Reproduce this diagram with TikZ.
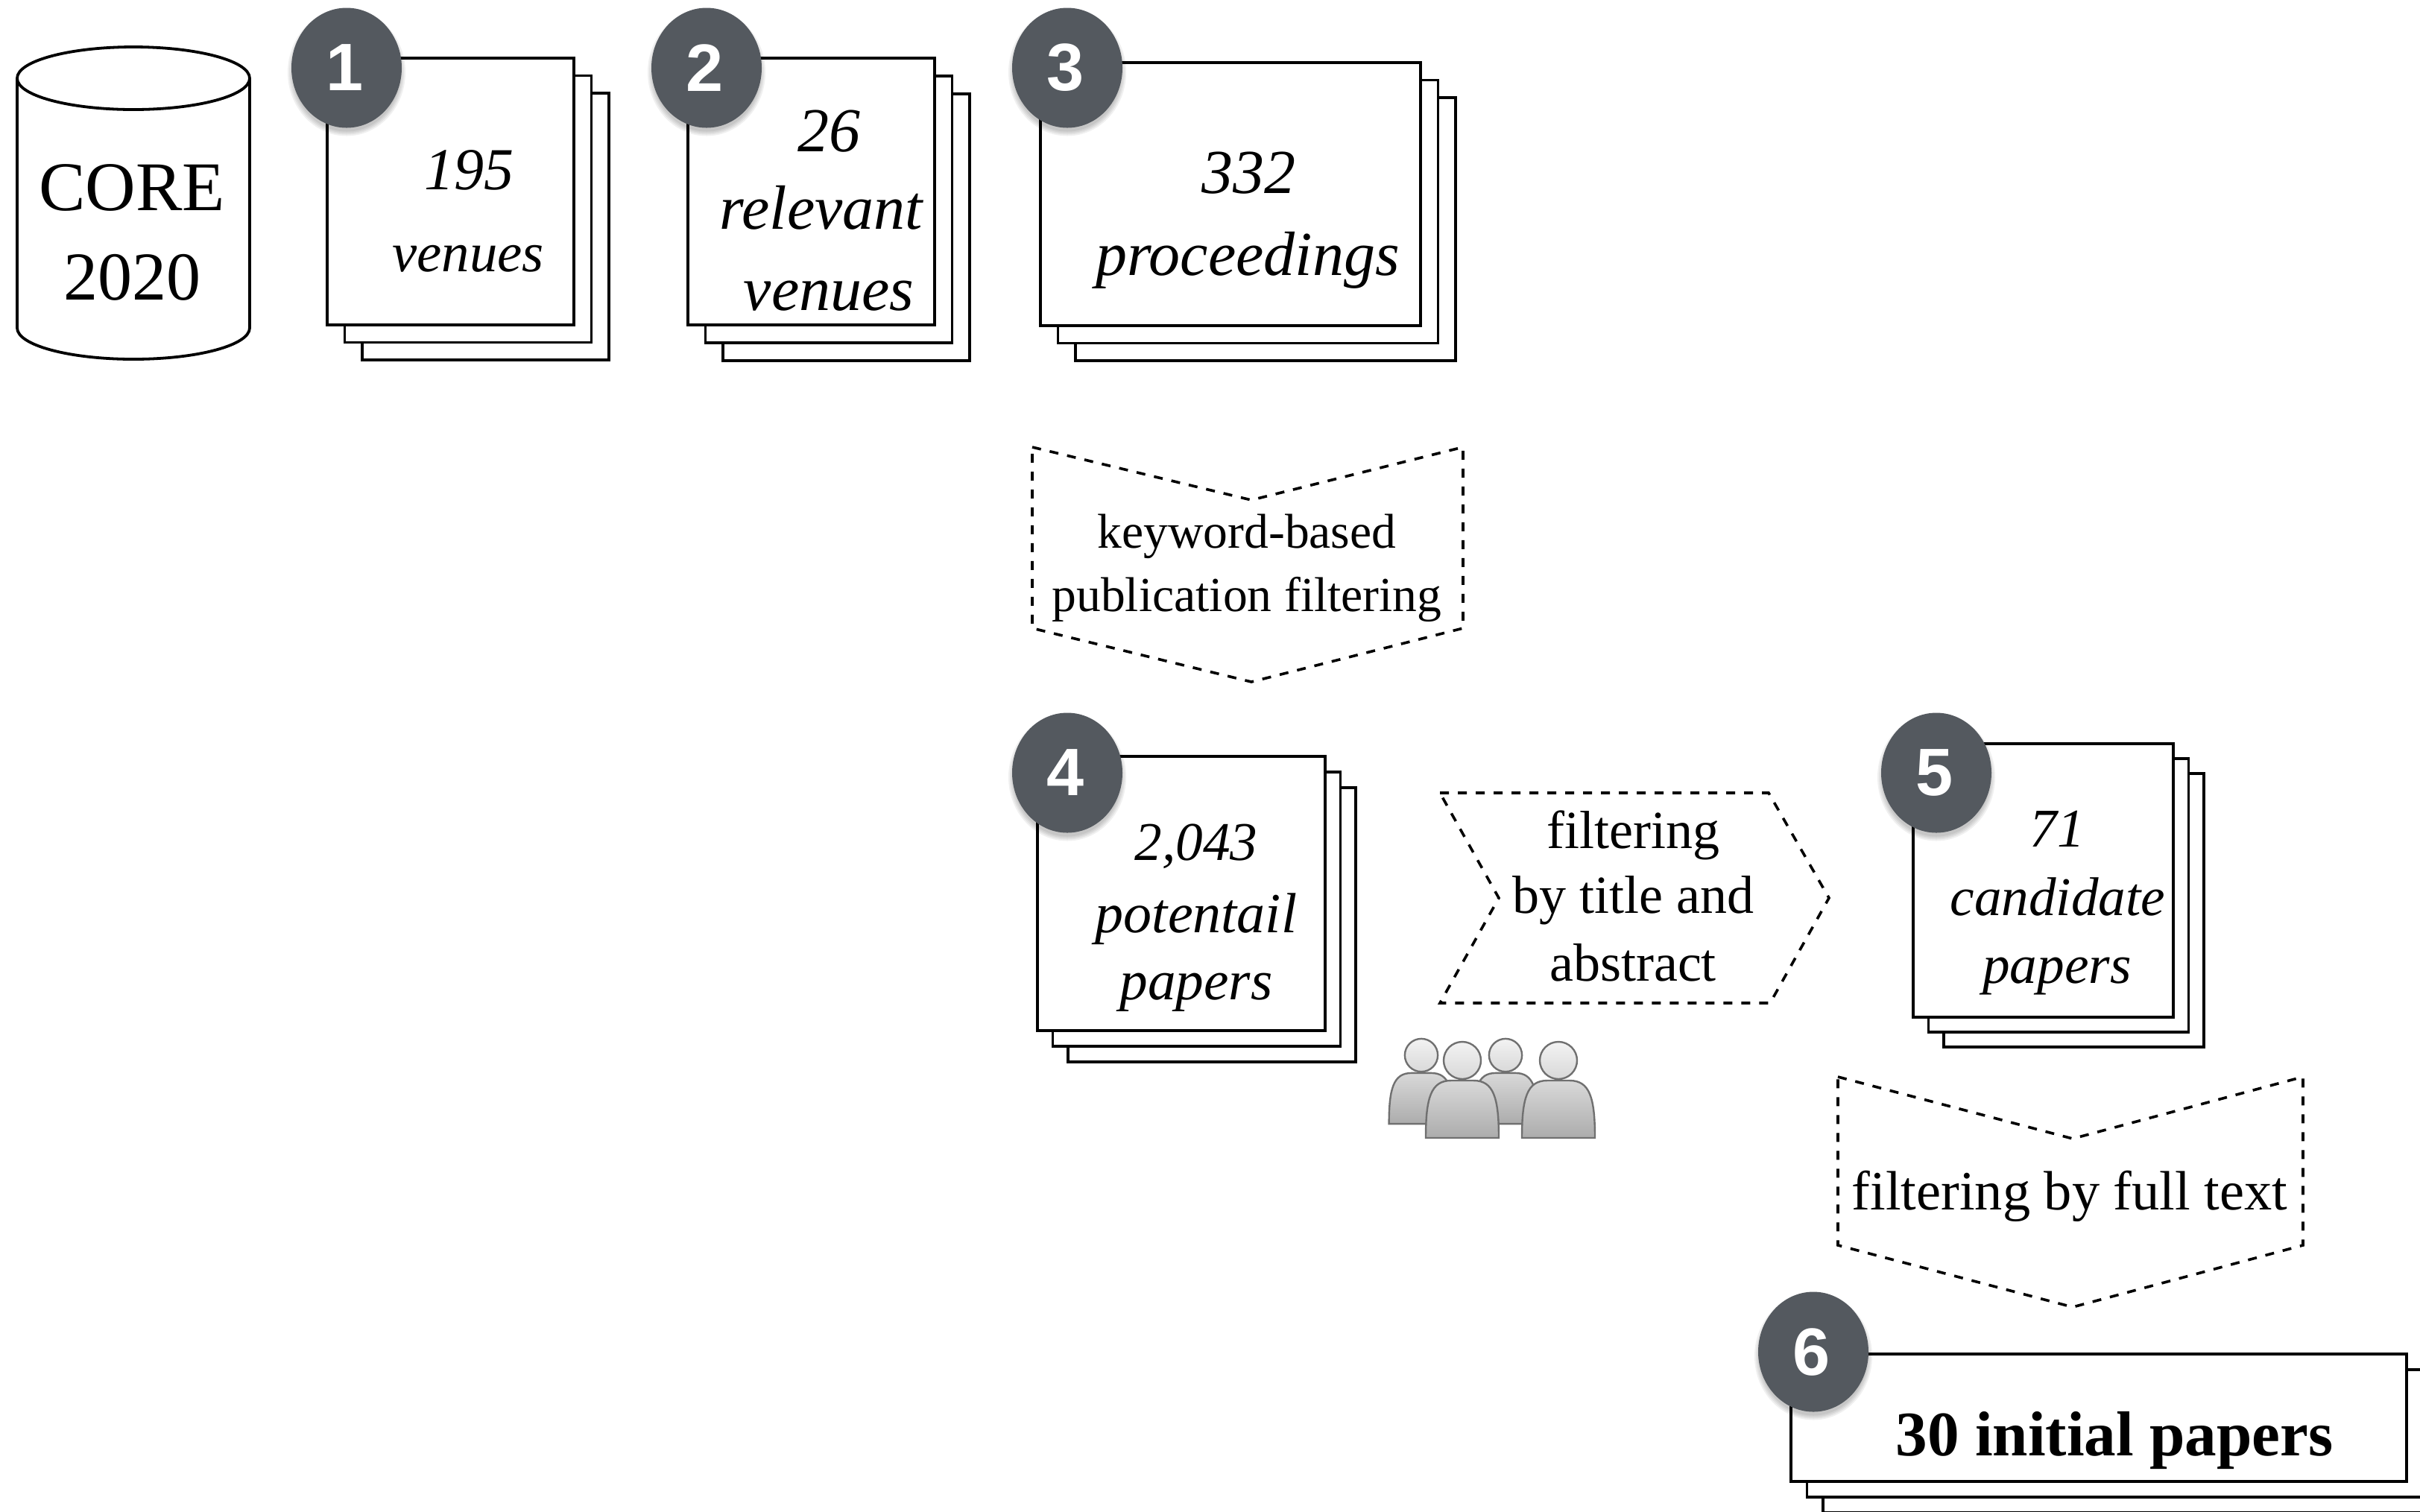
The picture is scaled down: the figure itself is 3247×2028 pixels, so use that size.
\documentclass[tikz,border=0pt]{standalone}
\usepackage{fontspec}
\setmainfont{Liberation Serif}
\newfontfamily\badgefont{Liberation Sans}
\usetikzlibrary{shapes.geometric}
\definecolor{badgegrey}{HTML}{54595F}
\definecolor{persline}{HTML}{707070}
\tikzset{
  sheet/.style={draw=black,line width=0.95pt,fill=white,line join=miter},
  filterbox/.style={draw=black,line width=0.9pt,dash pattern=on 3pt off 3pt,fill=white},
  note/.style={anchor=base,inner sep=0pt,align=center},
  badge/.style={ellipse,fill=badgegrey,text=white,inner sep=0pt,minimum width=37pt,minimum height=40.25pt,
    font=\badgefont\bfseries\fontsize{22.5}{24}\selectfont},
  perstroke/.style={draw=persline,line width=0.6pt},
}
% stack of three sheets: name, x1,y1,x2,y2 of the front sheet, offsets dx,dy
\newcommand{\sheetstack}[7]{%
  \path[sheet] ({#2+2*#6},{#3+2*#7}) rectangle ({#4+2*#6},{#5+2*#7});
  \path[sheet] ({#2+#6},{#3+#7}) rectangle ({#4+#6},{#5+#7});
  \path[sheet] (#2,#3) rectangle (#4,#5) coordinate (#1);
}
\newcommand{\stepbadge}[4]{%
  \foreach \i in {5,3,1,-1}{\fill[black,opacity=0.06] ({#2},{#3+6}) ellipse ({74+\i} and {80.5+\i});}
  \node[badge] (#1) at (#2,#3) {#4\kern1pt};
}
\newcommand{\person}[4]{%
  \begin{scope}[shift={(#2,#3)},scale=#4]
    \path[perstroke,top color=gray!30!white,bottom color=gray!65!white]
      (-49,104) .. controls (-49,50) and (-42,27) .. (-15,27) -- (15,27)
      .. controls (42,27) and (49,50) .. (49,104) -- cycle;
    \path[perstroke,top color=gray!10!white,bottom color=gray!30!white] (0,0) circle (25);
    \coordinate (#1) at (0,0);
  \end{scope}
}
\begin{document}
\begin{tikzpicture}[x=0.25pt,y=-0.25pt]
\useasboundingbox (0,0) rectangle (3247,2028);
\clip (0,0) rectangle (3247,2028);
% database cylinder
\path[sheet] (23,105) -- (23,440) arc[start angle=180,end angle=360,x radius=156,y radius=-42] -- (335,105);
\path[sheet] (179,105) ellipse (156 and 42);
\node[note,font=\fontsize{23.4}{27}\selectfont] (corea) at (177,282) {CORE};
\node[note,font=\fontsize{23}{27}\selectfont] (coreb) at (177,402) {2020};
% stacks
\sheetstack{s1}{439}{78}{770}{436}{23.5}{23.5}
\sheetstack{s2}{923}{78}{1254}{436}{23.5}{24}
\sheetstack{s3}{1396}{84}{1906}{437}{23.5}{23.5}
\sheetstack{s4}{1392}{1015}{1778}{1383}{20.5}{21}
\sheetstack{s5}{2567}{998}{2916}{1365}{20.5}{20}
\sheetstack{s6}{2403}{1817}{3229}{1988}{21.5}{21}
% filters
\path[filterbox] (1385,600) -- (1679,671) -- (1963,600) -- (1963,843) -- (1679,915) -- (1385,843) -- cycle;
\path[filterbox] (1932,1064) -- (2373,1064) -- (2454,1205) -- (2375,1346) -- (1932,1346) -- (2011,1205) -- cycle;
\path[filterbox] (2466,1445) -- (2781,1528) -- (3090,1445) -- (3090,1671) -- (2781,1754) -- (2466,1671) -- cycle;
% texts in stacks
\node[note,font=\itshape\fontsize{20}{24}\selectfont] (t1a) at (629,254) {195};
\node[note,font=\itshape\fontsize{18.7}{24}\selectfont] (t1b) at (628,364) {venues};
\node[note,font=\itshape\fontsize{21}{24}\selectfont] (t2a) at (1112,203) {26};
\node[note,font=\itshape\fontsize{21}{24}\selectfont] (t2b) at (1102,307) {relevant};
\node[note,font=\itshape\fontsize{21}{24}\selectfont] (t2c) at (1112,416) {venues};
\node[note,font=\itshape\fontsize{21}{24}\selectfont] (t3a) at (1675,259) {332};
\node[note,font=\itshape\fontsize{21}{24}\selectfont] (t3b) at (1674,369) {proceedings};
\node[note,font=\itshape\fontsize{18.3}{24}\selectfont] (t4a) at (1605,1154) {2,043};
\node[note,font=\itshape\fontsize{19}{24}\selectfont] (t4b) at (1605,1251) {potentail};
\node[note,font=\itshape\fontsize{18.8}{24}\selectfont] (t4c) at (1605,1341) {papers};
\node[note,font=\itshape\fontsize{18.3}{24}\selectfont] (t5a) at (2760,1136) {71};
\node[note,font=\itshape\fontsize{18.3}{24}\selectfont] (t5b) at (2761,1228) {candidate};
\node[note,font=\itshape\fontsize{18.3}{24}\selectfont] (t5c) at (2760,1319) {papers};
\node[note,font=\bfseries\fontsize{21.3}{24}\selectfont] (t6) at (2837,1953) {30 initial papers};
% texts in filters
\node[note,font=\fontsize{16.4}{20}\selectfont] (f1a) at (1673,735) {keyword-based};
\node[note,font=\fontsize{16.4}{20}\selectfont] (f1b) at (1673,820) {publication filtering};
\node[note,font=\fontsize{18}{20}\selectfont] (f2a) at (2191,1138) {filtering};
\node[note,font=\fontsize{18}{20}\selectfont] (f2b) at (2191,1225) {by title and};
\node[note,font=\fontsize{18}{20}\selectfont] (f2c) at (2191,1316) {abstract};
\node[note,font=\fontsize{18.6}{20}\selectfont] (f3) at (2777,1623) {filtering by full text};
% people
\person{p1}{1907}{1416}{0.885}
\person{p2}{2020}{1416}{0.885}
\person{p3}{1962}{1423}{1}
\person{p4}{2091}{1423}{1}
% badges
\stepbadge{b1}{465}{91}{1}
\stepbadge{b2}{948}{91}{2}
\stepbadge{b3}{1432}{91}{3}
\stepbadge{b4}{1432}{1037}{4}
\stepbadge{b5}{2598}{1037}{5}
\stepbadge{b6}{2433}{1814}{6}
\end{tikzpicture}
\end{document}
